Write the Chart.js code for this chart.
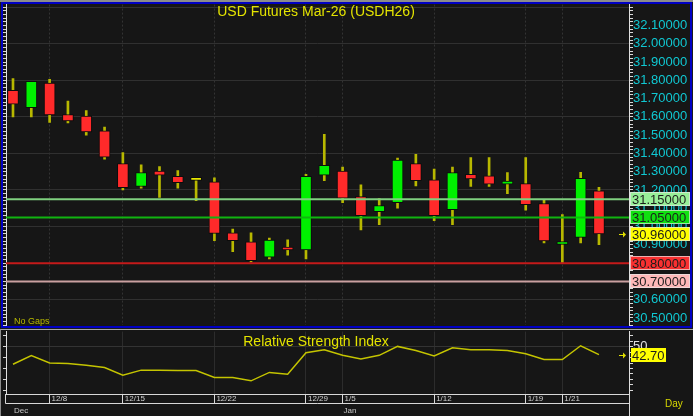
<!DOCTYPE html>
<html>
<head>
<meta charset="utf-8">
<script src="https://cdn.jsdelivr.net/npm/chart.js@4.4.1/dist/chart.umd.min.js"></script>
<style>
html, body { margin: 0; padding: 0; width: 693px; height: 416px; overflow: hidden; background: #1b1b1b; font-family: "Liberation Sans", Arial, sans-serif; }
#edge { position: absolute; left: 0; top: 0; width: 693px; height: 2px; background: #8c8c8c; }
#top { position: absolute; left: 1px; top: 2px; width: 691px; height: 326px; box-sizing: border-box; border: 2px solid #0000c4; background: #161616; }
#bot { position: absolute; left: 0; top: 329px; width: 693px; height: 87px; box-sizing: border-box; border-top: 1px solid #a8a8a8; border-left: 1px solid #8c8c8c; background: #161616; }
canvas { position: absolute; }
#c1 { left: 3px; top: 4px; }
#c2 { left: 3px; top: 331px; }
.txt { position: absolute; color: #e4e400; white-space: pre; }
#title { left: 0; width: 632px; top: 3px; text-align: center; font-size: 14px; }
#gaps { left: 14px; top: 316px; font-size: 9px; color: #b8b800; }
#rsiTitle { left: 0; width: 632px; top: 333px; text-align: center; font-size: 14px; }
#day { left: 665px; top: 398px; font-size: 10px; color: #d8d800; }
</style>
</head>
<body>
<div id="edge"></div>
<div id="top"></div>
<div id="bot"></div>
<canvas id="c1" width="687" height="322"></canvas>
<canvas id="c2" width="687" height="85"></canvas>
<div class="txt" id="title">USD Futures Mar-26 (USDH26)</div>
<div class="txt" id="gaps">No Gaps</div>
<div class="txt" id="rsiTitle">Relative Strength Index</div>
<div class="txt" id="day">Day</div>
<script>
// daily bars, Dec -> Jan
const open  = [31.745, 31.65, 31.785, 31.613, 31.604, 31.524, 31.344, 31.219, 31.304, 31.275, 31.253,
               31.244, 30.966, 30.916, 30.832, 30.886, 30.872, 31.281, 31.304, 31.164, 31.082, 31.131,
               31.344, 31.255, 31.092, 31.286, 31.277, 31.232, 31.235, 31.126, 30.902, 30.941, 31.195];
const high  = [31.81, 31.795, 31.805, 31.686, 31.635, 31.544, 31.404, 31.337, 31.328, 31.306, 31.266,
               31.266, 30.986, 30.966, 30.937, 30.928, 31.286, 31.504, 31.326, 31.228, 31.153, 31.375,
               31.395, 31.315, 31.326, 31.377, 31.377, 31.295, 31.377, 31.146, 31.066, 31.297, 31.215];
const low   = [31.60, 31.60, 31.57, 31.567, 31.50, 31.369, 31.20, 31.21, 31.159, 31.21, 31.141,
               30.923, 30.863, 30.807, 30.823, 30.843, 30.823, 31.251, 31.131, 30.981, 31.011, 31.101,
               31.222, 31.032, 31.011, 31.219, 31.219, 31.18, 31.09, 30.91, 30.804, 30.91, 30.901];
const close = [31.67, 31.795, 31.61, 31.578, 31.518, 31.38, 31.213, 31.295, 31.281, 31.24, 31.253,
               30.962, 30.923, 30.814, 30.926, 30.872, 31.275, 31.335, 31.155, 31.06, 31.115, 31.364,
               31.251, 31.06, 31.295, 31.26, 31.232, 31.242, 31.12, 30.921, 30.916, 31.264, 30.96];
const rsi   = [33.9, 41.8, 35.1, 34.5, 33.0, 30.9, 23.9, 28.5, 28.5, 28.2, 28.2,
               21.8, 21.8, 18.7, 26.4, 24.8, 44.5, 47.3, 42.1, 38.7, 42.1, 50.3,
               46.6, 41.5, 49.1, 47.3, 47.3, 46.6, 43.6, 38.2, 38.2, 50.9, 42.7];

const tickIdx = [2, 6, 11, 16, 18, 23, 28, 30];
const tickLbl = ['12/8', '12/15', '12/22', '12/29', '1/5', '1/12', '1/19', '1/21'];
const monthIdx = [0, 18];
const monthLbl = ['Dec', 'Jan'];

const levels = [31.15, 31.05, 30.80, 30.70];
const levelLine = ['#7fd07f', '#10b410', '#c41a1a', '#caa0a0'];
const levelBox  = ['#98f098', '#10e010', '#f83030', '#ffb8b8'];

// shared horizontal range so both panels line up
const XMIN = -0.382, XMAX = 33.64;
const n = close.length;
const idx = close.map((_, i) => i);

const candleColor = idx.map(i => close[i] > open[i] ? '#00f000' : close[i] < open[i] ? '#ff2a2a' : '#e8e800');

const FAMILY = '"Liberation Sans", Arial';
function fixWidth(w) { return s => { s.width = w; }; }
function dateTicks(s) { s.ticks = tickIdx.map(v => ({ value: v })); }
function stepTicks(lo, hi, step) {
  return s => {
    const t = [];
    for (let k = Math.ceil(lo / step - 1e-9); k * step <= hi + 1e-9; k++) t.push({ value: +(k * step).toFixed(4) });
    s.ticks = t;
  };
}
const isMult = (v, m) => Math.abs(v / m - Math.round(v / m)) < 1e-6;
const priceLabelled = v => isMult(v, 0.1) && v < 32.15;

// unlabelled ticks get a tiny font so they don't pad the chart area
const tickFont = test => c => ({ family: FAMILY, size: c.tick && test(c.tick.value) ? 13 : 1 });

function arrow(ctx, x, y) {
  ctx.strokeStyle = '#e0e000';
  ctx.fillStyle = '#e0e000';
  ctx.lineWidth = 1;
  ctx.beginPath(); ctx.moveTo(x - 4, y + 0.5); ctx.lineTo(x + 1, y + 0.5); ctx.stroke();
  ctx.beginPath(); ctx.moveTo(x + 3, y + 0.5); ctx.lineTo(x, y - 2.5); ctx.lineTo(x, y + 3.5); ctx.closePath(); ctx.fill();
}

function tag(ctx, s, v, bg, label) {
  const y = Math.round(s.getPixelForValue(v));
  ctx.fillStyle = bg;
  ctx.fillRect(s.left + 1, y - 7, 60, 14);
  ctx.strokeStyle = 'rgba(230,230,230,0.7)';
  ctx.lineWidth = 1;
  ctx.strokeRect(s.left + 1.5, y - 6.5, 59, 13);
  ctx.fillStyle = '#1c1c1c';
  ctx.font = '13px ' + FAMILY;
  ctx.textBaseline = 'middle';
  ctx.textAlign = 'left';
  ctx.fillText(label, s.left + 3, y + 1);
}

const priceTags = {
  id: 'priceTags',
  afterDraw(chart) {
    const ctx = chart.ctx, s = chart.scales.y;
    ctx.save();
    levels.forEach((v, i) => tag(ctx, s, v, levelBox[i], v.toFixed(5)));
    const last = close[n - 1];
    tag(ctx, s, last, '#ffff00', last.toFixed(5));
    arrow(ctx, chart.chartArea.right - 6, Math.round(s.getPixelForValue(last)));
    ctx.restore();
  }
};

new Chart(document.getElementById('c1'), {
  type: 'bar',
  data: {
    datasets: [
      {
        data: idx.map(i => ({ x: i, y: [open[i], close[i]] })),
        backgroundColor: candleColor,
        borderColor: '#0c0c0c',
        borderWidth: 1,
        borderSkipped: false,
        barThickness: 11,
        minBarLength: 3,
        grouped: false,
        yAxisID: 'y'
      },
      {
        data: idx.map(i => ({ x: i, y: [low[i], high[i]] })),
        backgroundColor: '#b8b800',
        borderWidth: 0,
        barThickness: 2,
        grouped: false,
        yAxisID: 'y'
      },
      ...levels.map((v, i) => ({
        type: 'line',
        data: [{ x: XMIN, y: v }, { x: XMAX, y: v }],
        borderColor: levelLine[i],
        borderWidth: 2,
        pointRadius: 0,
        order: -1,
        yAxisID: 'y'
      }))
    ]
  },
  options: {
    responsive: false,
    animation: false,
    layout: { padding: 0, autoPadding: false },
    plugins: { legend: { display: false }, tooltip: { enabled: false } },
    scales: {
      x: {
        type: 'linear', min: XMIN, max: XMAX, offset: false,
        afterBuildTicks: dateTicks,
        afterFit: s => { s.height = 0; },
        ticks: { display: false },
        grid: { color: '#333333', drawTicks: false, offset: false },
        border: { display: false, dash: [2, 2] }
      },
      y: {
        position: 'right', min: 30.4594, max: 32.214, beginAtZero: false,
        afterBuildTicks: stepTicks(30.46, 32.2, 0.02),
        afterFit: fixWidth(61),
        ticks: {
          color: '#10c8d2', padding: 0, autoSkip: false,
          font: tickFont(priceLabelled),
          callback: v => priceLabelled(v) ? v.toFixed(5) : ''
        },
        grid: {
          color: c => isMult(c.tick.value, 0.2) ? '#303030' : 'rgba(0,0,0,0)',
          tickColor: '#d8d8d8', tickLength: 4
        },
        border: { color: '#e0e0e0', width: 1 }
      },
      yl: {
        position: 'left', min: 30.4594, max: 32.214, beginAtZero: false,
        afterBuildTicks: stepTicks(30.46, 32.2, 0.02),
        afterFit: fixWidth(3),
        ticks: { display: false },
        grid: { drawOnChartArea: false, tickColor: '#d8d8d8', tickLength: 3 },
        border: { color: '#e0e0e0', width: 1 }
      }
    }
  },
  plugins: [priceTags]
});

const rsiDecor = {
  id: 'rsiDecor',
  afterDraw(chart) {
    const ctx = chart.ctx, a = chart.chartArea, x = chart.scales.x, s = chart.scales.y;
    ctx.save();
    ctx.strokeStyle = '#d8d8d8';
    ctx.lineWidth = 1;
    ctx.beginPath();
    ctx.moveTo(a.left - 0.5, a.bottom); ctx.lineTo(a.left - 0.5, a.bottom + 9.5);
    ctx.lineTo(a.right, a.bottom + 9.5);
    ctx.moveTo(a.right + 0.5, a.bottom); ctx.lineTo(a.right + 0.5, chart.height);
    ctx.stroke();
    ctx.fillStyle = '#c8c8c8';
    ctx.font = '8px ' + FAMILY;
    ctx.textBaseline = 'top';
    ctx.textAlign = 'left';
    monthIdx.forEach((m, i) => ctx.fillText(monthLbl[i], x.getPixelForValue(m) + 1, a.bottom + 13));
    const last = rsi[n - 1];
    const y = Math.round(s.getPixelForValue(last));
    ctx.fillStyle = '#ffff00';
    ctx.fillRect(s.left + 2, y - 7, 35, 14);
    ctx.fillStyle = '#1c1c1c';
    ctx.font = '13px ' + FAMILY;
    ctx.textBaseline = 'middle';
    ctx.fillText(last.toFixed(2), s.left + 3, y + 1);
    arrow(ctx, a.right - 6, y);
    ctx.restore();
  }
};

new Chart(document.getElementById('c2'), {
  type: 'line',
  data: {
    datasets: [{
      data: idx.map(i => ({ x: i, y: rsi[i] })),
      borderColor: '#c4c400',
      borderWidth: 1.5,
      pointRadius: 0,
      tension: 0
    }]
  },
  options: {
    responsive: false,
    animation: false,
    layout: { padding: 0, autoPadding: false },
    plugins: { legend: { display: false }, tooltip: { enabled: false } },
    scales: {
      x: {
        type: 'linear', min: XMIN, max: XMAX, offset: false,
        afterBuildTicks: dateTicks,
        afterFit: s => { s.height = 22; },
        ticks: {
          color: '#d0d0d0', align: 'start', labelOffset: 2, padding: -9, maxRotation: 0, autoSkip: false,
          font: { family: FAMILY, size: 8 },
          callback: v => tickLbl[tickIdx.indexOf(v)]
        },
        grid: { color: '#2c2c2c', tickColor: '#d8d8d8', tickLength: 9, offset: false },
        border: { color: '#d8d8d8', width: 1 }
      },
      y: {
        position: 'right', min: 6.6, max: 63.9,
        afterBuildTicks: stepTicks(10, 60, 5),
        afterFit: fixWidth(61),
        ticks: {
          color: '#e0e0e0', padding: 0, autoSkip: false,
          font: tickFont(v => v === 50),
          callback: v => v === 50 ? '50' : ''
        },
        grid: {
          color: c => c.tick.value === 50 ? '#333333' : 'rgba(0,0,0,0)',
          tickColor: '#d8d8d8', tickLength: 4
        },
        border: { color: '#e0e0e0', width: 1 }
      },
      yl: {
        position: 'left', min: 6.6, max: 63.9,
        afterBuildTicks: stepTicks(10, 60, 10),
        afterFit: fixWidth(3),
        ticks: { display: false },
        grid: { drawOnChartArea: false, tickColor: '#d8d8d8', tickLength: 3 },
        border: { color: '#e0e0e0', width: 1 }
      }
    }
  },
  plugins: [rsiDecor]
});
</script>
</body>
</html>
